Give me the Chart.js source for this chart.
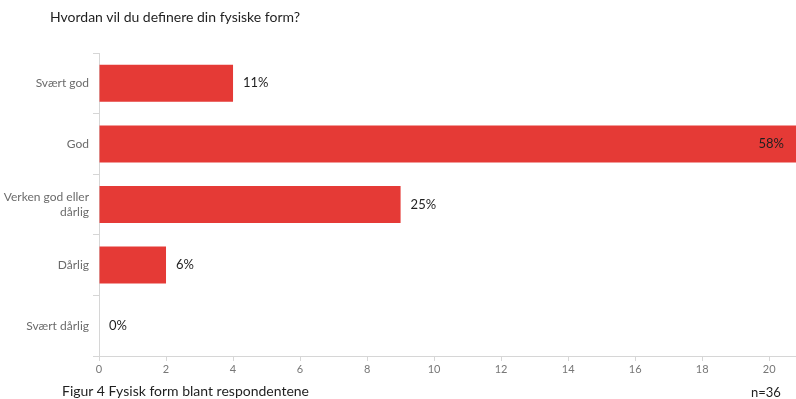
<!DOCTYPE html>
<html>
<head>
<meta charset="utf-8">
<script src="https://cdn.jsdelivr.net/npm/chart.js@4/dist/chart.umd.min.js"></script>
<style>
    body { margin: 0; background: #fff; }
    #wrap { position: relative; width: 796px; height: 399px; overflow: hidden; font-family: Lato, 'Open Sans', sans-serif; }
    #chart { position: absolute; left: 0; top: 0; }
    .txt { position: absolute; color: #1f1f1f; white-space: nowrap; }
</style>
</head>
<body>
<div id="wrap">
    <canvas id="chart" width="796" height="399"></canvas>
    <div class="txt" style="left:50px;top:8px;font-size:14px;">Hvordan vil du definere din fysiske form?</div>
    <div class="txt" style="left:62px;top:382px;font-size:14px;">Figur 4 Fysisk form blant respondentene</div>
    <div class="txt" style="left:751px;top:384px;font-size:13px;">n=36</div>
</div>
<script>
// ── Data ─────────────────────────────────────────────────
const categories = ['Svært god', 'God', ['Verken god eller', 'dårlig'], 'Dårlig', 'Svært dårlig'];
const counts = [4, 21, 9, 2, 0];
const pctLabels = ['11%', '58%', '25%', '6%', '0%'];
const xTicks = [0, 2, 4, 6, 8, 10, 12, 14, 16, 18, 20];

const BAR_RED = '#e53a36';
const AXIS_GRAY = '#d6d6d6';

// labels next to / inside the bars
const barLabels = {
    id: 'barLabels',
    afterDatasetsDraw(chart) {
        const { ctx, chartArea } = chart;
        const meta = chart.getDatasetMeta(0);
        ctx.save();
        ctx.font = '13px Lato, "Open Sans", sans-serif';
        ctx.fillStyle = '#1f1f1f';
        ctx.textBaseline = 'middle';
        meta.data.forEach((bar, i) => {
            const end = bar.x;
            if (end + 45 > chartArea.right) {
                ctx.textAlign = 'right';
                ctx.fillText(pctLabels[i], Math.min(end, chartArea.right) - 12, bar.y);
            } else {
                ctx.textAlign = 'left';
                ctx.fillText(pctLabels[i], end + 10, bar.y);
            }
        });
        ctx.restore();
    }
};

new Chart(document.getElementById('chart'), {
    type: 'bar',
    data: {
        labels: categories,
        datasets: [{
            data: counts,
            backgroundColor: BAR_RED,
            borderWidth: 0,
            categoryPercentage: 1,
            barPercentage: 0.61,
        }]
    },
    options: {
        indexAxis: 'y',
        responsive: false,
        animation: false,
        layout: { padding: { top: 53, bottom: 22, left: 0, right: 0 } },
        plugins: {
            legend: { display: false },
            tooltip: { enabled: false }
        },
        scales: {
            x: {
                min: 0,
                max: 20.8,
                afterBuildTicks: s => { s.ticks = xTicks.map(v => ({ value: v })); },
                afterFit: s => { s.height = 21; },
                ticks: { color: '#777', font: { size: 11, family: 'Lato, "Open Sans", sans-serif' }, padding: 2, maxRotation: 0 },
                grid: { drawOnChartArea: false, color: AXIS_GRAY, tickLength: 5 },
                border: { color: AXIS_GRAY, width: 1 }
            },
            y: {
                afterFit: s => { s.width = 99; },
                ticks: { color: '#6b6b6b', font: { size: 12, family: 'Lato, "Open Sans", sans-serif' }, padding: 4 },
                grid: { drawOnChartArea: false, offset: true, color: AXIS_GRAY, tickLength: 6 },
                border: { color: AXIS_GRAY, width: 1 }
            }
        }
    },
    plugins: [barLabels]
});
</script>
</body>
</html>
